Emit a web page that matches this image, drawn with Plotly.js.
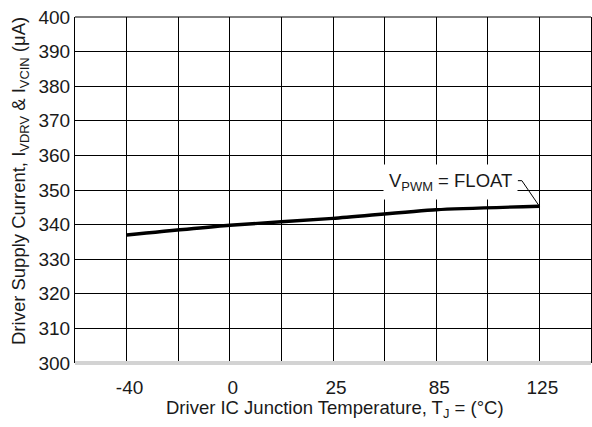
<!DOCTYPE html>
<html>
<head>
<meta charset="utf-8">
<script src="https://cdn.plot.ly/plotly-3.0.1.min.js"></script>
<style>html,body{margin:0;padding:0;background:#fff;}#chart{width:592px;height:427px;}</style>
</head>
<body>
<div id="chart"></div>
<script>
// Data
const tempLabels = ["-40", "0", "25", "85", "125"];
const supplyCurrent = [337.0, 339.8, 341.8, 344.3, 345.3];
const yTicks = [300, 310, 320, 330, 340, 350, 360, 370, 380, 390, 400];
const seriesLabel = "V<sub>PWM</sub> = FLOAT";
const xTitle = "Driver IC Junction Temperature, T<sub>J</sub> = (°C)";
const yTitle = "Driver Supply Current, I<sub>VDRV</sub> & I<sub>VCIN</sub> (μA)";

const xIdx = tempLabels.map((_, i) => i);
const lastX = xIdx[xIdx.length - 1];
const lastY = supplyCurrent[supplyCurrent.length - 1];

const fam = "Liberation Sans, Arial, Helvetica, sans-serif";
const tickFont = {family: fam, size: 19, color: "#1a1a1a"};
const titleFont = {family: fam, size: 18.5, color: "#1a1a1a"};

const trace = {
  x: xIdx,
  y: supplyCurrent,
  mode: "lines",
  line: {color: "#000", width: 3.4, shape: "spline", smoothing: 0.6},
  hoverinfo: "skip",
  showlegend: false
};

const layout = {
  width: 592, height: 427,
  margin: {l: 75, r: 1, t: 17, b: 64},
  paper_bgcolor: "#fff", plot_bgcolor: "#fff",
  font: tickFont,
  showlegend: false,
  xaxis: {
    range: [-0.5, 4.5],
    tickvals: xIdx, ticktext: tempLabels,
    showgrid: true, gridcolor: "#000", gridwidth: 1,
    minor: {dtick: 0.5, tick0: -0.5, showgrid: true, gridcolor: "#000", gridwidth: 1},
    zeroline: false, showline: false, ticks: "",
    tickfont: tickFont, ticklabelstandoff: 11, ticklabelshift: 3,
    fixedrange: true
  },
  yaxis: {
    range: [300, 400],
    tickvals: yTicks,
    showgrid: true, gridcolor: "#000", gridwidth: 1,
    zeroline: false, showline: true, mirror: true, linecolor: "#000", linewidth: 1,
    ticks: "", ticklen: 0,
    tickfont: tickFont,
    fixedrange: true
  },
  shapes: [
    {type: "line", xref: "paper", yref: "paper", x0: 0, x1: 1, y0: 1, y1: 1, line: {color: "#000", width: 1}},
    {type: "line", xref: "paper", yref: "paper", x0: 0, x1: 1, y0: 0, y1: 0, line: {color: "#d3d3d3", width: 4}, layer: "above"},
    {type: "path", xref: "x", yref: "y",
     path: "M " + (lastX - 0.21) + "," + (lastY + 7.4) + " L " + (lastX - 0.17) + "," + (lastY + 7.4) + " L " + lastX + "," + lastY,
     line: {color: "#000", width: 1}, layer: "above"}
  ],
  annotations: [
    {x: lastX - 0.86, y: lastY + 6.9, xref: "x", yref: "y", text: seriesLabel, showarrow: false,
     font: titleFont, bgcolor: "#fff", borderpad: 5, xanchor: "center", yanchor: "middle"},
    {x: 0.5, y: 409, xref: "paper", yref: "paper", text: xTitle, showarrow: false,
     font: titleFont, xanchor: "center", yanchor: "middle"},
    {x: 20, y: 181, xref: "paper", yref: "paper", text: yTitle, showarrow: false, textangle: -90,
     font: titleFont, xanchor: "center", yanchor: "middle"}
  ]
};

// convert pixel positions of the two axis titles into paper fractions
const pw = layout.width - layout.margin.l - layout.margin.r;
const ph = layout.height - layout.margin.t - layout.margin.b;
const xa = layout.annotations[1];
xa.y = (layout.height - layout.margin.b - xa.y) / ph;
xa.x = (335 - layout.margin.l) / pw;
const ya = layout.annotations[2];
ya.x = (ya.x - layout.margin.l) / pw;
ya.y = (layout.height - layout.margin.b - ya.y) / ph;

Plotly.newPlot("chart", [trace], layout, {displayModeBar: false, staticPlot: true});
</script>
</body>
</html>
